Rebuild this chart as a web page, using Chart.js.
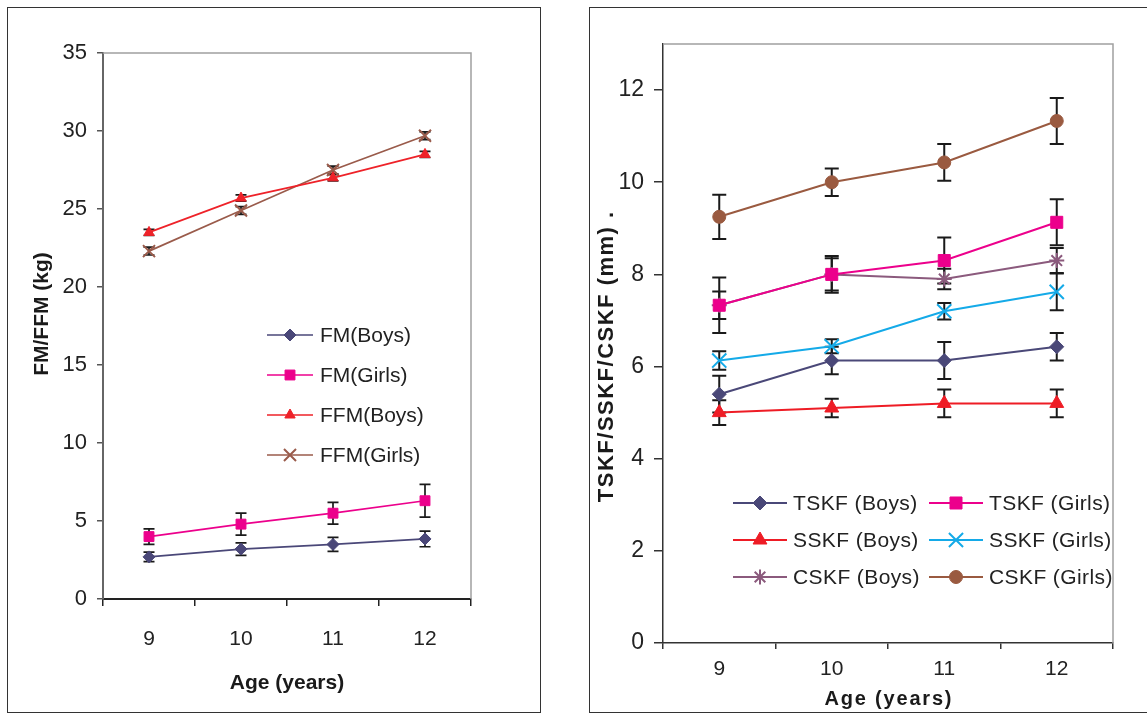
<!DOCTYPE html>
<html>
<head>
<meta charset="utf-8">
<script src="https://cdn.jsdelivr.net/npm/chart.js@4.4.1/dist/chart.umd.min.js"></script>
<style>
  html, body { margin: 0; padding: 0; background: #fff; overflow: hidden; width: 1147px; height: 715px; }
  .box { position: absolute; border: 1.5px solid #333; box-sizing: border-box; }
  canvas { position: absolute; top: 0; }
</style>
</head>
<body>
<div class="box" style="left:7px;top:7px;width:534px;height:706px"></div>
<div class="box" style="left:589px;top:7px;width:600px;height:706px"></div>
<canvas id="left" width="560" height="715" style="left:0"></canvas>
<canvas id="right" width="587" height="715" style="left:560px"></canvas>
<script>
const ages = ['9', '10', '11', '12'];

// left chart, kg
const fmBoys = [2.7, 3.2, 3.5, 3.85];
const fmBoysErr = [0.3, 0.4, 0.45, 0.5];
const fmGirls = [4.0, 4.8, 5.5, 6.3];
const fmGirlsErr = [0.5, 0.7, 0.7, 1.05];
const ffmBoys = [23.5, 25.7, 27.0, 28.5];
const ffmBoysErr = [0.2, 0.2, 0.2, 0.2];
const ffmGirls = [22.3, 24.9, 27.5, 29.7];
const ffmGirlsErr = [0.25, 0.25, 0.25, 0.25];

// right chart, mm
const tskfBoys = [5.4, 6.13, 6.13, 6.43];
const tskfBoysErr = [0.4, 0.3, 0.4, 0.3];
const tskfGirls = [7.33, 8.0, 8.3, 9.13];
const tskfGirlsErr = [0.6, 0.4, 0.5, 0.5];
const sskfBoys = [5.0, 5.1, 5.2, 5.2];
const sskfBoysErr = [0.27, 0.2, 0.3, 0.3];
const sskfGirls = [6.13, 6.44, 7.2, 7.62];
const sskfGirlsErr = [0.2, 0.15, 0.18, 0.4];
const cskfBoys = [7.33, 8.0, 7.9, 8.3];
const cskfBoysErr = [0.3, 0.35, 0.22, 0.27];
const cskfGirls = [9.25, 10.0, 10.43, 11.33];
const cskfGirlsErr = [0.48, 0.3, 0.4, 0.5];

const FAMILY = "'Liberation Sans', Arial, sans-serif";
const font = (size, weight) => ({ family: FAMILY, size: size, weight: weight || 'normal' });

function series(label, data, err, color, style, radius, lineWidth) {
  const open = style === 'crossRot' || style === 'star' || style === 'cross';
  return {
    label: label,
    data: data,
    errorBars: err,
    borderColor: color,
    borderWidth: lineWidth,
    backgroundColor: color,
    pointStyle: style,
    pointRadius: radius,
    pointBackgroundColor: color,
    pointBorderColor: color,
    pointBorderWidth: open ? 2 : 1,
    tension: 0,
    fill: false
  };
}

// error bars, plot frame, in-plot legend and axis titles
const extras = {
  id: 'extras',
  beforeDatasetsDraw(chart, args, opts) {
    const ctx = chart.ctx;
    const ys = chart.scales.y;
    ctx.save();
    ctx.strokeStyle = '#1a1a1a';
    ctx.lineWidth = opts.errWidth;
    chart.data.datasets.forEach((ds, i) => {
      const meta = chart.getDatasetMeta(i);
      meta.data.forEach((pt, j) => {
        const v = ds.data[j], e = ds.errorBars[j];
        const top = ys.getPixelForValue(v + e);
        const bot = ys.getPixelForValue(v - e);
        const c = opts.capHalf;
        ctx.beginPath();
        ctx.moveTo(pt.x, top); ctx.lineTo(pt.x, bot);
        ctx.moveTo(pt.x - c, top); ctx.lineTo(pt.x + c, top);
        ctx.moveTo(pt.x - c, bot); ctx.lineTo(pt.x + c, bot);
        ctx.stroke();
      });
    });
    ctx.restore();
  },
  afterDraw(chart, args, opts) {
    const ctx = chart.ctx;
    const a = chart.chartArea;
    ctx.save();
    // top and right edges of the plot
    ctx.strokeStyle = '#a0a0a0';
    ctx.lineWidth = 1.5;
    ctx.beginPath();
    ctx.moveTo(a.left, a.top);
    ctx.lineTo(a.right, a.top);
    ctx.lineTo(a.right, a.bottom);
    ctx.stroke();

    // legend
    const L = opts.legend;
    ctx.font = L.size + 'px ' + FAMILY;
    ctx.textBaseline = 'middle';
    ctx.textAlign = 'left';
    chart.data.datasets.forEach((ds, i) => {
      const col = i % L.cols, row = Math.floor(i / L.cols);
      const cx = L.x + col * L.colStep;
      const cy = L.y + row * L.rowStep;
      ctx.strokeStyle = ds.borderColor;
      ctx.lineWidth = ds.borderWidth;
      ctx.beginPath();
      ctx.moveTo(cx - L.lineHalf, cy);
      ctx.lineTo(cx + L.lineHalf, cy);
      ctx.stroke();
      ctx.fillStyle = ds.pointBackgroundColor;
      ctx.strokeStyle = ds.pointBorderColor;
      ctx.lineWidth = ds.pointBorderWidth;
      Chart.helpers.drawPoint(ctx, {
        pointStyle: ds.pointStyle, radius: ds.pointRadius, rotation: 0, borderWidth: ds.pointBorderWidth
      }, cx, cy);
      ctx.fillStyle = '#222';
      ctx.letterSpacing = (L.spacing || 0) + 'px';
      ctx.fillText(ds.label, cx + L.lineHalf + L.gap, cy + 1);
      ctx.letterSpacing = '0px';
    });

    // axis titles
    ctx.fillStyle = '#1a1a1a';
    ctx.textAlign = 'center';
    ctx.textBaseline = 'middle';
    const xt = opts.xTitle;
    ctx.font = 'bold ' + xt.size + 'px ' + FAMILY;
    ctx.letterSpacing = xt.spacing + 'px';
    ctx.fillText(xt.text, (a.left + a.right) / 2 + xt.spacing / 2, xt.y);
    const yt = opts.yTitle;
    ctx.font = 'bold ' + yt.size + 'px ' + FAMILY;
    ctx.letterSpacing = yt.spacing + 'px';
    ctx.translate(yt.x, yt.y);
    ctx.rotate(-Math.PI / 2);
    ctx.fillText(yt.text, yt.spacing / 2, 0);
    ctx.letterSpacing = '0px';
    ctx.restore();
  }
};

// left: FM / FFM
new Chart(document.getElementById('left'), {
  type: 'line',
  data: {
    labels: ages,
    datasets: [
      series('FM(Boys)', fmBoys, fmBoysErr, '#4a4778', 'rectRot', 6, 1.7),
      series('FM(Girls)', fmGirls, fmGirlsErr, '#ec008c', 'rect', 7, 1.7),
      series('FFM(Boys)', ffmBoys, ffmBoysErr, '#ee2229', 'triangle', 6, 1.7),
      series('FFM(Girls)', ffmGirls, ffmGirlsErr, '#9a5b4b', 'crossRot', 8.5, 1.7)
    ]
  },
  options: {
    responsive: false,
    animation: false,
    layout: { padding: { left: 0, top: 53, right: 89, bottom: 0 } },
    plugins: {
      legend: { display: false },
      tooltip: { enabled: false },
      extras: {
        errWidth: 1.7,
        capHalf: 5.5,
        legend: { x: 290, y: 335, cols: 1, colStep: 0, rowStep: 40, lineHalf: 23, gap: 7, size: 21 },
        xTitle: { text: 'Age (years)', y: 683, size: 21, spacing: 0 },
        yTitle: { text: 'FM/FFM (kg)', x: 42, y: 314, size: 21, spacing: 0 }
      }
    },
    scales: {
      x: {
        type: 'category',
        offset: true,
        grid: { offset: true, drawOnChartArea: false, drawTicks: true, tickLength: 7, color: '#222', lineWidth: 1.5 },
        border: { color: '#222', width: 2 },
        ticks: { font: font(21), color: '#222', padding: 21 },
        afterFit: s => { s.height = 116; }
      },
      y: {
        min: 0,
        max: 35,
        grid: { drawOnChartArea: false, drawTicks: true, tickLength: 6, color: '#555', lineWidth: 1.5 },
        border: { color: '#666', width: 2 },
        ticks: { stepSize: 5, font: font(22), color: '#222', padding: 10 },
        afterFit: s => { s.width = 103; }
      }
    }
  },
  plugins: [extras]
});

// right: skinfolds
new Chart(document.getElementById('right'), {
  type: 'line',
  data: {
    labels: ages,
    datasets: [
      series('TSKF (Boys)', tskfBoys, tskfBoysErr, '#4a4878', 'rectRot', 7, 2),
      series('TSKF (Girls)', tskfGirls, tskfGirlsErr, '#ec008c', 'rect', 8.5, 2),
      series('SSKF (Boys)', sskfBoys, sskfBoysErr, '#ee1c25', 'triangle', 8, 2),
      series('SSKF (Girls)', sskfGirls, sskfGirlsErr, '#14aae8', 'crossRot', 10, 2),
      series('CSKF (Boys)', cskfBoys, cskfBoysErr, '#8b5a7d', 'star', 7.5, 2),
      series('CSKF (Girls)', cskfGirls, cskfGirlsErr, '#9a5a40', 'circle', 6.5, 2)
    ]
  },
  options: {
    responsive: false,
    animation: false,
    layout: { padding: { left: 0, top: 44, right: 34, bottom: 0 } },
    plugins: {
      legend: { display: false },
      tooltip: { enabled: false },
      extras: {
        errWidth: 2,
        capHalf: 7,
        legend: { x: 200, y: 503, cols: 2, colStep: 196, rowStep: 37, lineHalf: 27, gap: 6, size: 21, spacing: 0.4 },
        xTitle: { text: 'Age (years)', y: 699, size: 20, spacing: 1.8 },
        yTitle: { text: 'TSKF/SSKF/CSKF (mm) .', x: 47, y: 357, size: 22, spacing: 1.5 }
      }
    },
    scales: {
      x: {
        type: 'category',
        offset: true,
        grid: { offset: true, drawOnChartArea: false, drawTicks: true, tickLength: 6, color: '#333', lineWidth: 1.5 },
        border: { color: '#333', width: 1.5 },
        ticks: { font: font(21), color: '#222', padding: 8 },
        afterFit: s => { s.height = 72; }
      },
      y: {
        min: 0,
        max: 13,
        grid: { drawOnChartArea: false, drawTicks: true, tickLength: 9, color: '#333', lineWidth: 1.5 },
        border: { color: '#333', width: 1.5 },
        ticks: { stepSize: 2, includeBounds: false, font: font(23), color: '#222', padding: 10 },
        afterFit: s => { s.width = 103; }
      }
    }
  },
  plugins: [extras]
});
</script>
</body>
</html>
